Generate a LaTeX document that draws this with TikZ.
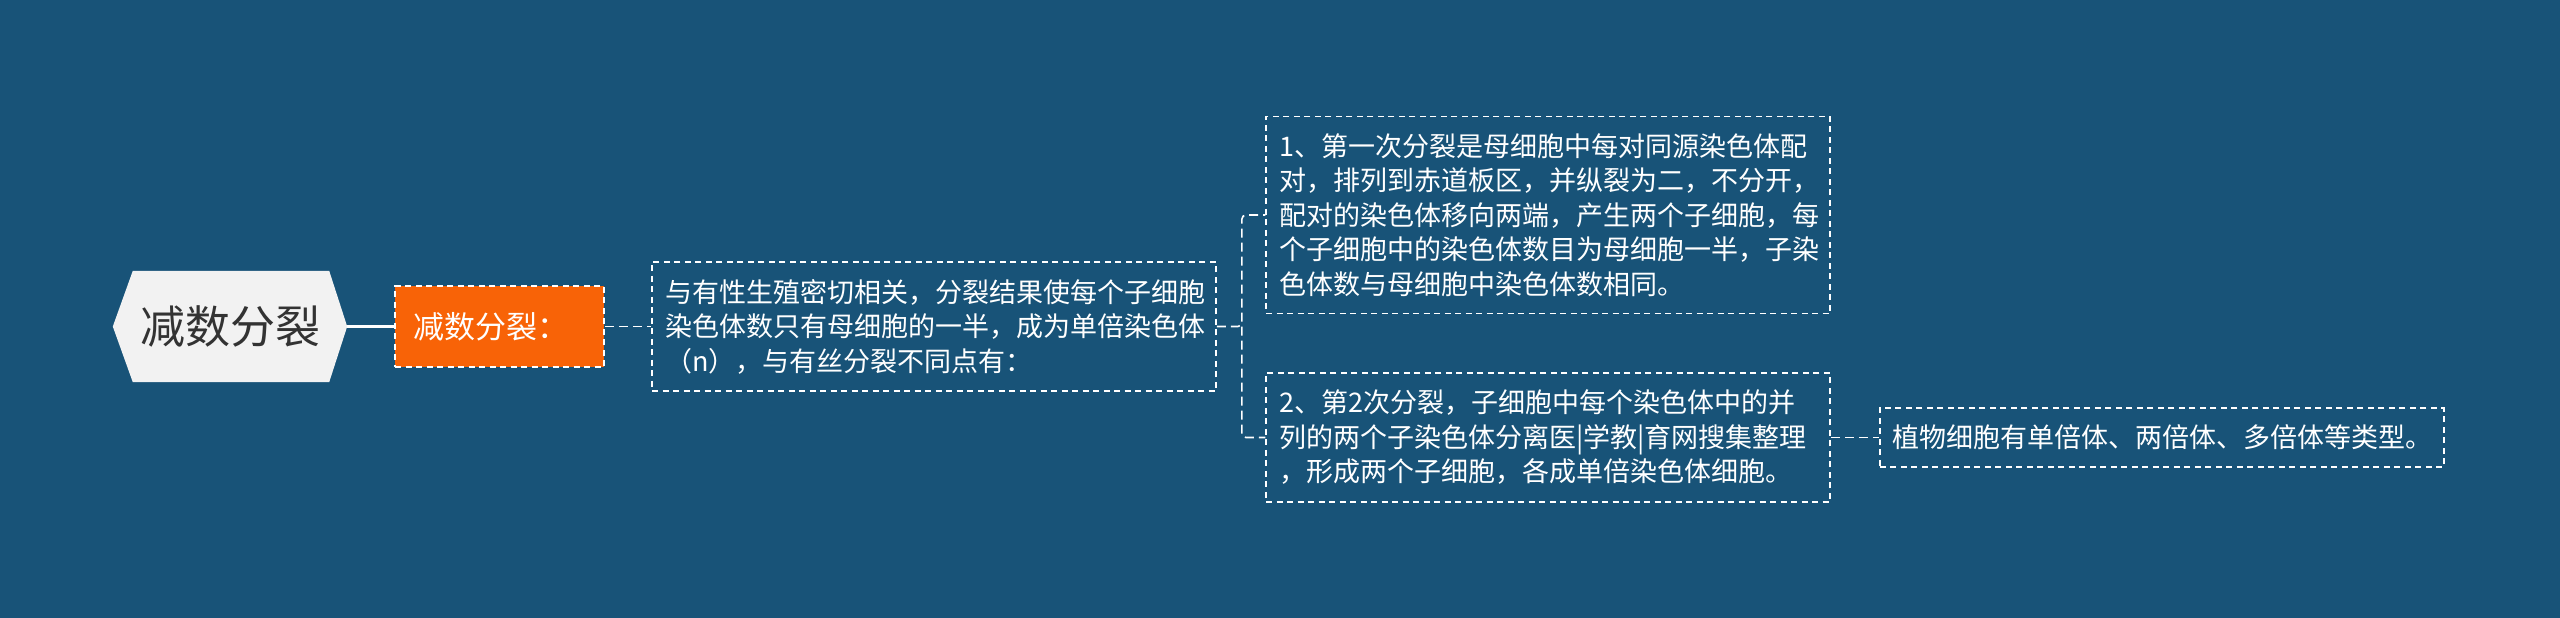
\documentclass[tikz,border=0pt]{standalone}
\usepackage{fontspec}
\newfontfamily\cjk{Noto Sans CJK SC}
\usepackage{xcolor}
\usepackage{tikz}
\usetikzlibrary{positioning, backgrounds}

\definecolor{bgblue}{HTML}{185378}
\definecolor{rootgray}{HTML}{F2F2F2}
\definecolor{roottext}{HTML}{333333}
\definecolor{hotorange}{HTML}{F86307}

\begin{document}
\begin{tikzpicture}[
  x=1pt, y=-1pt,
  node distance=47pt,
  rootnode/.style={minimum width=234pt, minimum height=111pt, inner sep=0pt,
    text=roottext, font=\cjk\fontsize{45pt}{54pt}\selectfont},
  keynode/.style={draw=white, dash pattern=on 6pt off 4.5pt, line width=1.6pt,
    fill=hotorange, text=white, minimum height=81pt, inner xsep=18pt,
    text width=173pt, align=left, font=\cjk\fontsize{31pt}{36pt}\selectfont},
  textbox/.style={draw=white, dash pattern=on 6pt off 4.5pt, line width=1.6pt,
    text=white, inner xsep=13pt, inner ysep=17pt, text width=538pt, align=left,
    font=\cjk\fontsize{27pt}{34.5pt}\selectfont},
  link/.style={draw=white, line width=1.6pt, dash pattern=on 9pt off 5pt, rounded corners=4pt}
]
\useasboundingbox (0,0) rectangle (2560,618);

\node[rootnode] (root) at (230,326.5) {减数分裂};
\node[keynode, right=of root] (key) {减数分裂：};
\node[textbox, right=46.5pt of key] (intro) {与有性生殖密切相关，分裂结果使每个子细胞\\染色体数只有母细胞的一半，成为单倍染色体\\（n），与有丝分裂不同点有：};
\node[textbox, right=48.5pt of intro, yshift=111.5pt] (first) {1、第一次分裂是母细胞中每对同源染色体配\\对，排列到赤道板区，并纵裂为二，不分开，\\配对的染色体移向两端，产生两个子细胞，每\\个子细胞中的染色体数目为母细胞一半，子染\\色体数与母细胞中染色体数相同。};
\node[textbox, right=48.5pt of intro, yshift=-111pt] (second) {2、第2次分裂，子细胞中每个染色体中的并\\列的两个子染色体分离医|学教|育网搜集整理\\，形成两个子细胞，各成单倍染色体细胞。};
\node[textbox, right=48pt of second] (plant) {植物细胞有单倍体、两倍体、多倍体等类型。};

\begin{scope}[on background layer]
  \fill[bgblue] (0,0) rectangle (2560,618);
  % hexagon behind the root text
  \fill[rootgray] (root.west) -- ([xshift=20pt]root.north west) -- ([xshift=-18pt]root.north east)
    -- (root.east) -- ([xshift=-18pt]root.south east) -- ([xshift=20pt]root.south west) -- cycle;
\end{scope}

\draw[white, line width=2.6pt] (root) -- (key);
\draw[link] (key) -- (intro);
\coordinate (fork) at ([xshift=25pt]intro.east);
\draw[link] (intro.east) -- (fork) |- (first.west);
\draw[link] (fork) |- (second.west);
\draw[link] (second) -- (plant);
\end{tikzpicture}
\end{document}
